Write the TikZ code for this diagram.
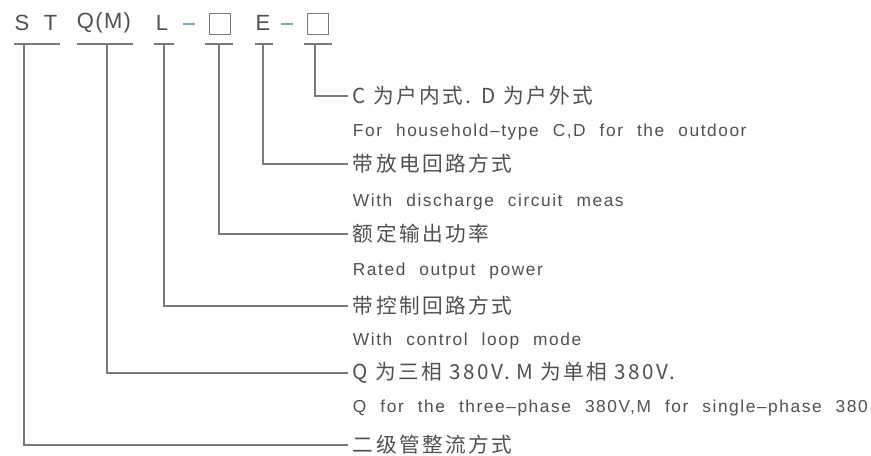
\documentclass[tikz,border=0pt]{standalone}
\usepackage{fontspec}
\setmainfont{Noto Sans CJK SC}
\newfontfamily\cnf[LetterSpace=12]{Noto Sans CJK SC}
\newfontfamily\enf[LetterSpace=9,WordSpace={2.2,0,0}]{Liberation Sans}
\newfontfamily\hdf[LetterSpace=6]{Liberation Sans}
\definecolor{txt}{HTML}{505050}
\definecolor{ln}{HTML}{7A7A7A}
\definecolor{dsh}{HTML}{7FA7B8}
\begin{document}
\begin{tikzpicture}[x=0.75pt,y=-0.75pt,
  cn/.style={anchor=west,inner xsep=3.5pt,inner ysep=0pt,text=txt,font=\cnf\fontsize{15.5}{15.5}\selectfont},
  en/.style={anchor=west,inner xsep=3.5pt,inner ysep=0pt,text=txt,font=\enf\fontsize{13}{13}\selectfont},
  hd/.style={inner sep=0pt,text=txt,font=\hdf\fontsize{16.5}{16.5}\selectfont},
  conn/.style={draw=ln,line width=1.4pt},
  uline/.style={draw=ln,line width=1.6pt},
  sq/.style={draw=ln,line width=1.2pt,minimum width=16pt,minimum height=16pt,inner sep=0pt},
  dashmark/.style={draw=dsh,line width=1.4pt}]
\useasboundingbox (0,0) rectangle (871,456);
% header
\node[hd] (hS) at (36,23) {S\hspace{11pt}T};
\node[hd] (hQ) at (104,23) {Q(M)};
\node[hd] (hL) at (162,23) {L};
\node[sq] (hB1) at (220,24) {};
\node[hd] (hE) at (263,23) {E};
\node[sq] (hB2) at (318,24) {};
\draw[dashmark] (183,24) -- (195,24);
\draw[dashmark] (281,24) -- (293,24);
% underlines
\coordinate (u1) at (24,44);
\coordinate (u2) at (107,44);
\coordinate (u3) at (164,44);
\coordinate (u4) at (219,44);
\coordinate (u5) at (263,44);
\coordinate (u6) at (315,44);
\draw[uline] (14,44) -- (60,44);
\draw[uline] (77,44) -- (133,44);
\draw[uline] (154,44) -- (174,44);
\draw[uline] (205,44) -- (233,44);
\draw[uline] (255,44) -- (273,44);
\draw[uline] (304,44) -- (332,44);
% labels
\node[cn] (t1) at (348,96) {C 为户内式.\,\,\,D 为户外式};
\node[en] (e1) at (348,132) {For household–type C,D for the outdoor};
\node[cn] (t2) at (348,164) {带放电回路方式};
\node[en] (e2) at (348,202) {With discharge circuit meas};
\node[cn] (t3) at (348,234) {额定输出功率};
\node[en] (e3) at (348,271) {Rated output power};
\node[cn] (t4) at (348,306) {带控制回路方式};
\node[en] (e4) at (348,341) {With control loop mode};
\node[cn] (t5) at (348,373) {Q 为三相 380V.\,\,M 为单相 380V.};
\node[en] (e5) at (348,408) {Q for the three–phase 380V,M for single–phase 380};
\node[cn] (t6) at (348,445) {二级管整流方式};
% connectors
\draw[conn] (u6) |- (t1.west);
\draw[conn] (u5) |- (t2.west);
\draw[conn] (u4) |- (t3.west);
\draw[conn] (u3) |- (t4.west);
\draw[conn] (u2) |- (t5.west);
\draw[conn] (u1) |- (t6.west);
\end{tikzpicture}
\end{document}
